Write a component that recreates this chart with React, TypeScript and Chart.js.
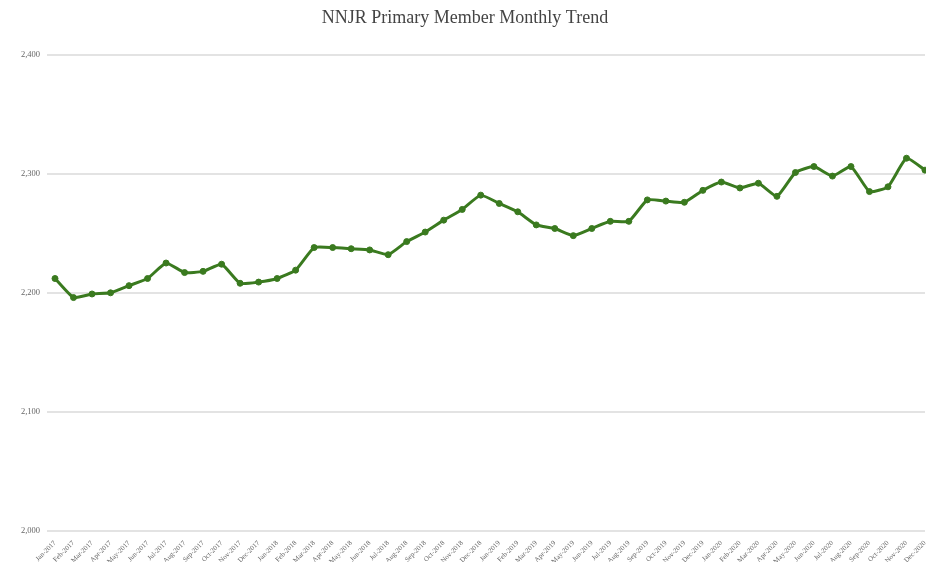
import React, { useEffect, useRef } from "react";
import { Chart, registerables } from "chart.js";

Chart.register(...registerables);

const months = ["Jan", "Feb", "Mar", "Apr", "May", "Jun", "Jul", "Aug", "Sep", "Oct", "Nov", "Dec"];
const years = ["2017", "2018", "2019", "2020"];
const categories: string[] = years.flatMap((y) => months.map((m) => `${m}-${y}`));

const members: number[] = [
  2212, 2196, 2199, 2200, 2206, 2212, 2225, 2217, 2218, 2224, 2208, 2209,
  2212, 2219, 2238, 2238, 2237, 2236, 2232, 2243, 2251, 2261, 2270, 2282,
  2275, 2268, 2257, 2254, 2248, 2254, 2260, 2260, 2278, 2277, 2276, 2286,
  2293, 2288, 2292, 2281, 2301, 2306, 2298, 2306, 2285, 2289, 2313, 2303,
];

const yTicks: number[] = [2000, 2100, 2200, 2300, 2400];
const titleText = "NNJR Primary Member Monthly Trend";

export default function App() {
  const ref = useRef<HTMLCanvasElement | null>(null);
  useEffect(() => {
    document.body.style.margin = "0";
    document.body.style.overflow = "hidden";
    const ctx = ref.current;
    if (!ctx) return;
    const chart = new Chart(ctx, {
      type: "line",
      data: {
        labels: categories,
        datasets: [
          {
            label: "Members",
            data: members,
            borderColor: "#3a7a1f",
            backgroundColor: "#3a7a1f",
            borderWidth: 3,
            pointRadius: 3,
            pointBorderWidth: 1,
            tension: 0.15,
          },
        ],
      },
      options: {
        responsive: false,
        animation: false,
        layout: { padding: 0 },
        plugins: {
          legend: { display: false },
          tooltip: { enabled: false },
          title: {
            display: true,
            text: titleText,
            color: "#444",
            font: { family: "Liberation Serif", size: 18, weight: "normal" },
            padding: { top: 7, bottom: 26 },
          },
        },
        scales: {
          x: {
            grid: { display: false },
            border: { display: false },
            ticks: {
              autoSkip: false,
              maxRotation: 45,
              minRotation: 45,
              color: "#666",
              font: { family: "Liberation Serif", size: 7 },
              padding: 0,
            },
            afterFit: (s: any) => {
              s.height = 31;
              s.paddingRight = 0;
              s.paddingLeft = 0;
            },
          },
          y: {
            min: 2000,
            max: 2400,
            afterBuildTicks: (s: any) => {
              s.ticks = yTicks.map((v) => ({ value: v }));
            },
            grid: { color: "#e3e3e3", lineWidth: 2, tickLength: 8 },
            border: { display: false },
            ticks: {
              color: "#666",
              font: { family: "Liberation Serif", size: 8.5 },
              callback: (v: any) => Number(v).toLocaleString("en-US"),
              padding: 7,
            },
            afterFit: (s: any) => {
              s.width = 55;
            },
          },
        },
      },
    });
    return () => chart.destroy();
  }, []);
  return (
    <div style={{ width: 926, height: 562, overflow: "hidden" }}>
      <canvas ref={ref} width={930} height={562} style={{ display: "block" }} />
    </div>
  );
}
